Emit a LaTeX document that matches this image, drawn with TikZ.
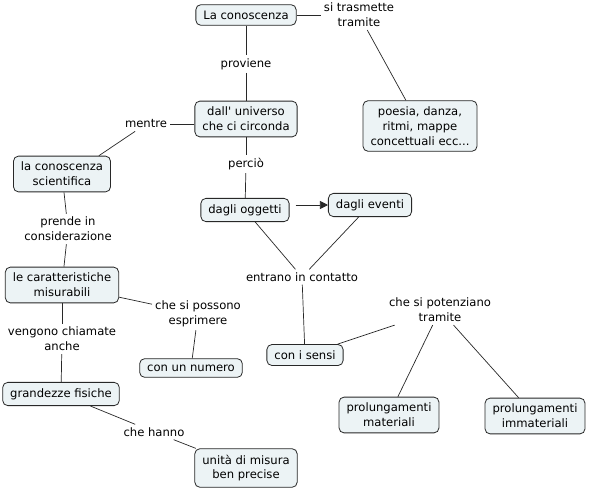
\documentclass[tikz,border=0pt]{standalone}
\usepackage{fontspec}
\setmainfont{DejaVu Sans}[Ligatures=TeXOff]
\usetikzlibrary{arrows.meta}
\definecolor{boxfill}{RGB}{236,243,245}
\definecolor{linec}{RGB}{40,40,40}
\begin{document}
\begin{tikzpicture}[x=1pt,y=-1pt,
  every node/.style={font=\fontsize{11.6}{14.8}\selectfont, align=center, text=black},
  concept/.style={draw=linec, fill=boxfill, rounded corners=5pt, inner xsep=7.5pt, inner ysep=6pt, line width=0.8pt},
  lab/.style={inner sep=3pt},
  conn/.style={draw=linec, line width=0.7pt}]
\useasboundingbox[fill=white] (0,0) rectangle (596,492);

\node[concept] (conosc) at (246,15) {La conoscenza};
\node[lab] (trasm) at (359,15) {si trasmette\\tramite};
\node[lab] (prov) at (246,64) {proviene};
\node[concept] (univ) at (246,119) {dall' universo\\che ci circonda};
\node[lab] (mentre) at (146,124) {mentre};
\node[concept] (poesia) at (420,126) {poesia, danza,\\ritmi, mappe\\concettuali ecc...};
\node[concept] (scient) at (62,174) {la conoscenza\\scientifica};
\node[lab] (percio) at (246,164) {perciò};
\node[concept] (ogg) at (245,210) {dagli oggetti};
\node[concept] (eventi) at (370,205) {dagli eventi};
\node[lab] (entrano) at (302,277) {entrano in contatto};
\node[lab] (prende) at (68,229) {prende in\\considerazione};
\node[concept] (caratt) at (62,285) {le caratteristiche\\misurabili};
\node[lab] (possono) at (198,314) {che si possono\\esprimere};
\node[concept] (numero) at (191,368) {con un numero};
\node[concept] (sensi) at (305,355) {con i sensi};
\node[lab] (potenz) at (440,310) {che si potenziano\\tramite};
\node[lab] (vengono) at (62,339) {vengono chiamate\\anche};
\node[concept] (grand) at (61,394) {grandezze fisiche};
\node[lab] (hanno) at (154,432) {che hanno};
\node[concept] (unita) at (246,468) {unità di misura\\ben precise};
\node[concept] (mater) at (389,415) {prolungamenti\\materiali};
\node[concept] (immater) at (535,416) {prolungamenti\\immateriali};

\draw[conn] (conosc.east) -- (trasm.west |- conosc.east);
\draw[conn] (trasm) -- (poesia);
\draw[conn] (conosc) -- (prov);
\draw[conn] (prov) -- (univ);
\draw[conn] (univ.west |- mentre) -- (mentre.east);
\draw[conn] (mentre) -- ([xshift=-12pt]scient.north east);
\draw[conn] (univ) -- (percio);
\draw[conn] (percio) -- (ogg);
\draw[conn, -{Triangle[length=8pt,width=8pt]}] ([xshift=6pt]ogg.east |- eventi) -- (eventi.west);
\draw[conn] (ogg) -- (entrano);
\draw[conn] (eventi) -- (entrano);
\draw[conn] (entrano) -- (sensi);
\draw[conn] (sensi) -- (potenz);
\draw[conn] (potenz) -- (mater);
\draw[conn] (potenz) -- (immater);
\draw[conn] (scient) -- (prende);
\draw[conn] (prende) -- (caratt);
\draw[conn] (caratt) -- (possono);
\draw[conn] (possono) -- (numero);
\draw[conn] (caratt) -- (vengono);
\draw[conn] (vengono) -- (grand);
\draw[conn] (grand) -- (hanno);
\draw[conn] (hanno) -- (unita);
\end{tikzpicture}
\end{document}
